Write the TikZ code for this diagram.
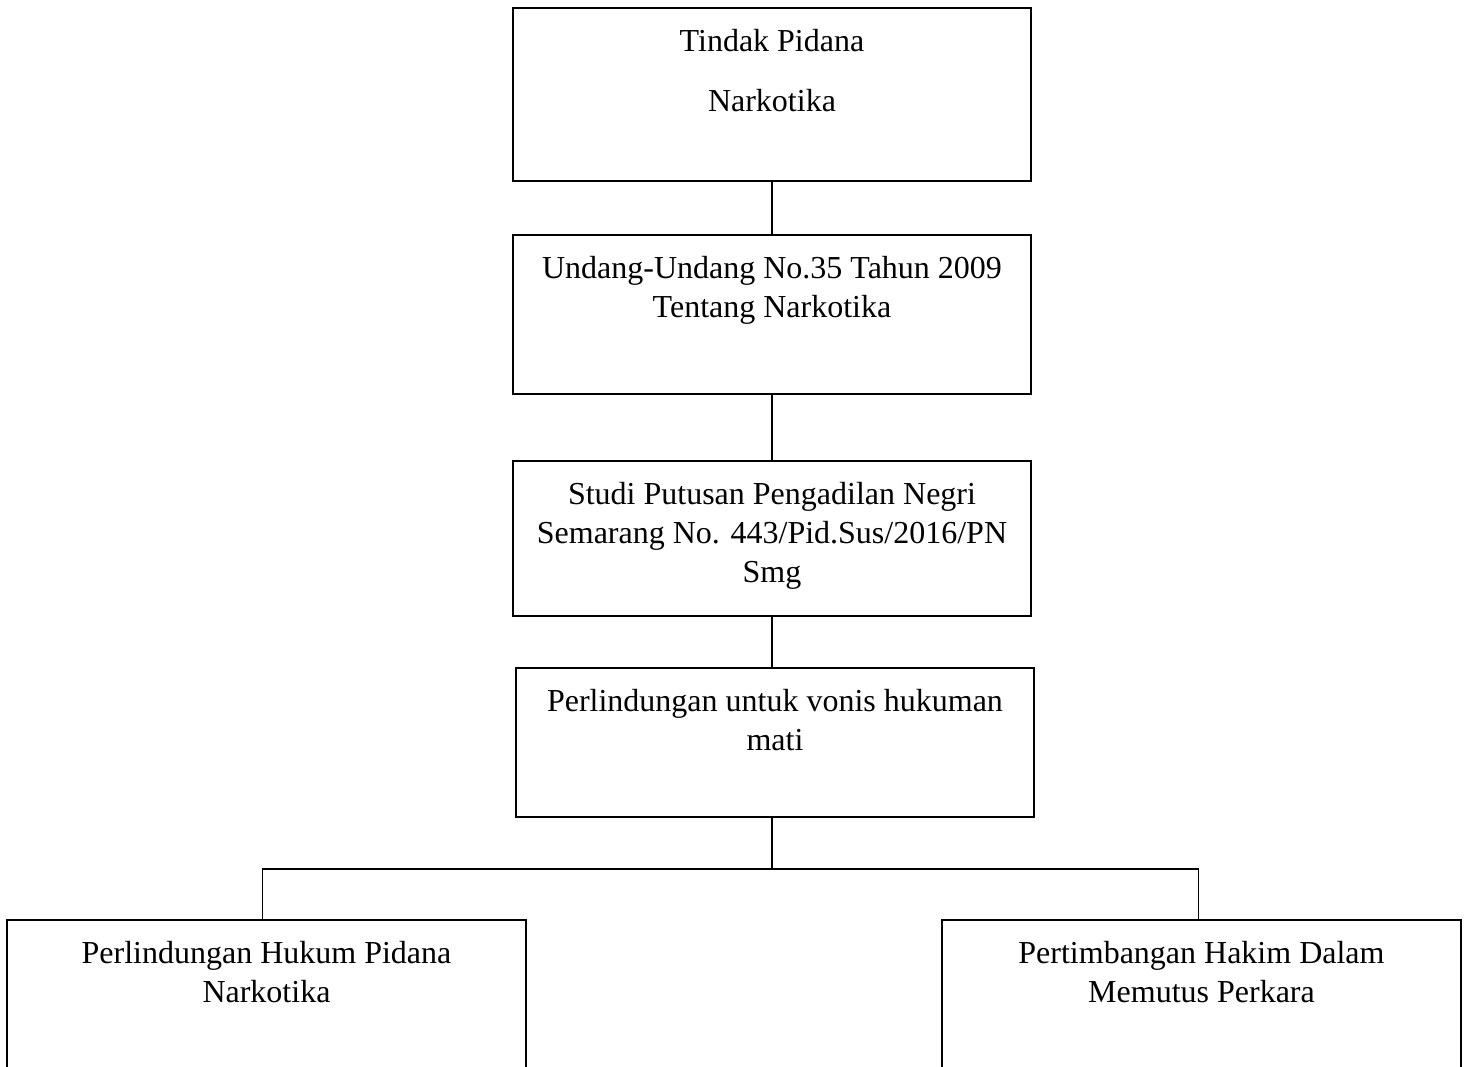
\documentclass[tikz,border=0pt]{standalone}
\usepackage{fontspec}
\setmainfont{Liberation Serif}
\newcommand\boxtext[3]{\parbox[c][#2pt][t]{#1pt}{\centering\rule{0pt}{43pt}#3\par}}
\begin{document}
\begin{tikzpicture}[x=1pt,y=-1pt,line width=1.3pt,
  box/.style={draw, rectangle, inner sep=0pt, outer sep=0pt, font=\fontsize{32}{39}\selectfont}]
\clip (0,0) rectangle (1465,1066);
\node[box] (b1) at (772,94.5) {\boxtext{518}{173}{Tindak Pidana\\[21pt]Narkotika}};
\node[box] (b2) at (772,314.5) {\boxtext{518}{159}{Undang-Undang No.35 Tahun 2009\\Tentang Narkotika}};
\node[box] (b3) at (772,538.5) {\boxtext{518}{155}{Studi Putusan Pengadilan Negri\\Semarang No. 443/Pid.Sus/2016/PN\\Smg}};
\node[box] (b4) at (775,742.5) {\boxtext{518}{149}{Perlindungan untuk vonis hukuman\\mati}};
\node[box] (b5) at (266.5,1005) {\boxtext{519}{170}{Perlindungan Hukum Pidana\\Narkotika}};
\node[box] (b6) at (1201.5,1005) {\boxtext{519}{170}{Pertimbangan Hakim Dalam\\Memutus Perkara}};
\coordinate (j) at (772,869);
\draw (b1.south) -- (b2.north);
\draw (b2.south) -- (b3.north);
\draw (b3.south) -- (b3.south |- b4.north);
\draw (b4.south -| j) -- (j);
\draw ([xshift=-4pt]b5.north) |- (j) -| ([xshift=-3pt]b6.north);
\end{tikzpicture}
\end{document}
